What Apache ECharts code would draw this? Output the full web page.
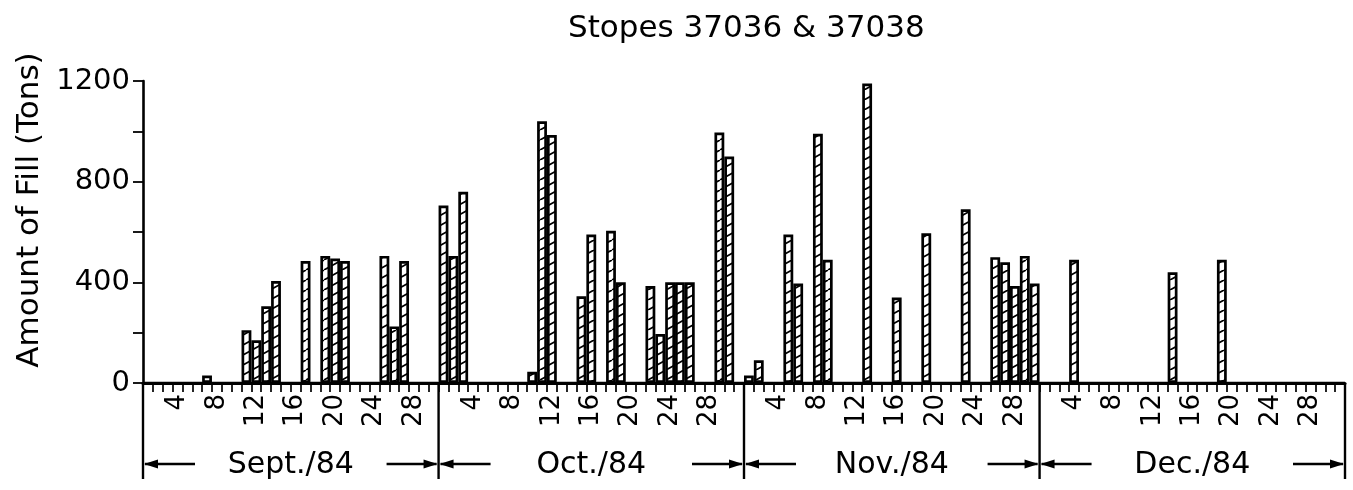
<!DOCTYPE html>
<html><head><meta charset="utf-8">
<script src="https://cdn.jsdelivr.net/npm/echarts@6/dist/echarts.min.js"></script>
<style>html,body{margin:0;padding:0;background:#fff}#c{width:1353px;height:490px}</style>
</head><body><div id="c"></div>
<script>
const titleText = 'Stopes 37036 & 37038';
const yName = 'Amount of Fill (Tons)';
const months = ['Sept./84', 'Oct./84', 'Nov./84', 'Dec./84'];
const monthShort = ['Sep', 'Oct', 'Nov', 'Dec'];
const monthDays = [30, 31, 30, 31];
const tickDays = [4, 8, 12, 16, 20, 24, 28];
const yLabelValues = [0, 400, 800, 1200];

// Daily amount of fill (tons), one value per day of each month
const septFill = [0,0,0,0,0,0,30,0,0,0, 210,170,305,405,0,0,485,0,505,495, 485,0,0,0,505,225,485,0,0,0];
const octFill  = [705,505,760,0,0,0,0,0,0,45, 1040,985,0,0,345,590,0,605,400,0, 0,385,195,400,400,400,0,0,995,900, 0];
const novFill  = [30,90,0,0,590,395,0,990,490,0, 0,0,1190,0,0,340,0,0,595,0, 0,0,690,0,0,500,480,385,505,395];
const decFill  = [0,0,0,490,0,0,0,0,0,0, 0,0,0,440,0,0,0,0,490,0, 0,0,0,0,0,0,0,0,0,0, 0];

const monthFills = [septFill, octFill, novFill, decFill];
const categories = [];
const dayOfCat = [];
const values = [];
monthFills.forEach((arr, m) => {
  arr.forEach((v, d) => {
    categories.push(monthShort[m] + ' ' + (d + 1));
    dayOfCat.push(d + 1);
    values.push(v);
  });
});

function hatchCanvas() {
  const w = 18, h = 10;
  const c = document.createElement('canvas');
  c.width = w; c.height = h;
  const g = c.getContext('2d');
  g.fillStyle = '#ffffff';
  g.fillRect(0, 0, w, h);
  g.strokeStyle = '#000';
  g.lineWidth = 1.7;
  g.beginPath();
  for (const o of [-w, 0, w]) {
    g.moveTo(o, h); g.lineTo(o + w, 0);
  }
  g.stroke();
  return c;
}

const FONT = 'DejaVu Sans';
const chart = echarts.init(document.getElementById('c'), null, {renderer: 'canvas'});
chart.setOption({
  animation: false,
  backgroundColor: '#fff',
  title: {
    text: titleText, left: 563, top: 8,
    textStyle: {fontFamily: FONT, fontSize: 31, fontWeight: 'normal', color: '#000'}
  },
  grid: {left: 143, right: 8, top: 81, bottom: 107, containLabel: false},
  xAxis: {
    type: 'category', data: categories, boundaryGap: true,
    axisLine: {show: true, lineStyle: {color: '#000', width: 3}},
    axisTick: {show: true, interval: 0, length: 9, lineStyle: {color: '#000', width: 1.7}},
    axisLabel: {
      interval: 0, rotate: 90, margin: 11,
      fontFamily: FONT, fontSize: 26, color: '#000',
      formatter: (v, i) => tickDays.includes(dayOfCat[i]) ? String(dayOfCat[i]) : ''
    },
    splitLine: {show: false}
  },
  yAxis: {
    type: 'value', min: 0, max: 1200, interval: 200,
    name: yName, nameLocation: 'middle', nameGap: 93,
    nameTextStyle: {fontFamily: FONT, fontSize: 31, color: '#000', padding: [0, 0, 0, 44]},
    axisLine: {show: true, lineStyle: {color: '#000', width: 2.6}},
    axisTick: {show: true, length: 10, lineStyle: {color: '#000', width: 1.8}},
    axisLabel: {
      margin: 13, fontFamily: FONT, fontSize: 29, color: '#000',
      formatter: v => yLabelValues.includes(v) ? String(v) : ''
    },
    splitLine: {show: false}
  },
  series: [{
    type: 'bar', data: values, barCategoryGap: '0%',
    itemStyle: {color: {image: hatchCanvas(), repeat: 'repeat'}, borderColor: '#000', borderWidth: 2.7}
  }]
});

// Month dividers, arrows and month labels placed through the axis scales
const px = i => chart.convertToPixel({xAxisIndex: 0}, categories[i]);
const band = px(1) - px(0);
const edge = k => px(0) - band / 2 + k * band;
const y0 = chart.convertToPixel({yAxisIndex: 0}, 0);
const starts = [0];
monthDays.forEach(d => starts.push(starts[starts.length - 1] + d));

const graphic = [];
starts.forEach(k => {
  const x = edge(k);
  graphic.push({type: 'line', shape: {x1: x, y1: y0, x2: x, y2: y0 + 96},
    style: {stroke: '#000', lineWidth: 2.4}});
});
const ay = y0 + 81;
months.forEach((name, m) => {
  const L = edge(starts[m]), R = edge(starts[m + 1]);
  graphic.push({type: 'line', shape: {x1: L + 2, y1: ay, x2: L + 52, y2: ay}, style: {stroke: '#000', lineWidth: 2.4}});
  graphic.push({type: 'polygon', shape: {points: [[L + 1, ay], [L + 15, ay - 4.5], [L + 15, ay + 4.5]]}, style: {fill: '#000'}});
  graphic.push({type: 'line', shape: {x1: R - 52, y1: ay, x2: R - 2, y2: ay}, style: {stroke: '#000', lineWidth: 2.4}});
  graphic.push({type: 'polygon', shape: {points: [[R - 1, ay], [R - 15, ay - 4.5], [R - 15, ay + 4.5]]}, style: {fill: '#000'}});
  graphic.push({type: 'text', x: (L + R) / 2, y: ay + 1,
    style: {text: name, fontFamily: FONT, fontSize: 30, fill: '#000', align: 'center', verticalAlign: 'middle'}});
});
chart.setOption({graphic: graphic});
</script>
</body></html>
